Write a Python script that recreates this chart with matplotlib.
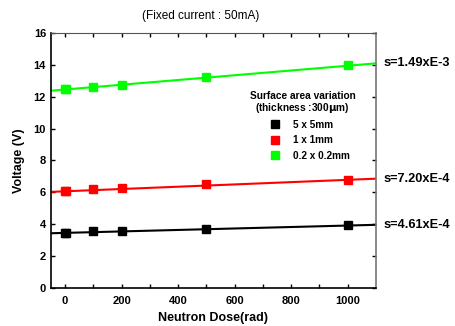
import numpy as np
import matplotlib
matplotlib.use("Agg")
import matplotlib.pyplot as plt

plt.rcParams['font.family'] = ['Liberation Sans', 'DejaVu Sans']

dose = [0, 5, 100, 200, 500, 1000]
v_5x5 = [3.45, 3.42, 3.55, 3.55, 3.70, 3.92]
v_1x1 = [6.05, 6.10, 6.20, 6.27, 6.50, 6.80]
v_02 = [12.45, 12.50, 12.62, 12.75, 13.22, 14.00]
labels = ["5 x 5mm", "1 x 1mm", "0.2 x 0.2mm"]
colors = ["#000000", "#ff0000", "#00ff00"]
slopes = [4.61e-4, 7.20e-4, 1.49e-3]
intercepts = [3.45, 6.06, 12.45]
slope_text = ["s=4.61xE-4", "s=7.20xE-4", "s=1.49xE-3"]

fig = plt.figure(figsize=(4.55, 3.26), dpi=100)
ax = fig.add_axes([0.112, 0.117, 0.714, 0.782])

xs = np.array([-50, 1100])
handles = []
for vals, lab, c, s, b in zip([v_5x5, v_1x1, v_02], labels, colors, slopes, intercepts):
    ax.plot(xs, b + s * xs, color=c, lw=1.5, zorder=2)
    h, = ax.plot(dose, vals, 's', color=c, ms=6, zorder=3, label=lab)
    handles.append(h)

ax.set_xlim(-50, 1100)
ax.set_ylim(0, 16)
ax.set_xticks([0, 200, 400, 600, 800, 1000])
ax.set_xticks(np.arange(0, 1100, 100), minor=True)
ax.set_yticks(np.arange(0, 17, 2))
ax.tick_params(direction='in', top=True, right=True, which='both', labelsize=8, width=1, length=3)
ax.tick_params(axis='x', pad=6)
for lab in ax.get_xticklabels() + ax.get_yticklabels():
    lab.set_fontweight('bold')
ax.spines['left'].set_linewidth(1.2)
ax.spines['bottom'].set_linewidth(1.2)
ax.spines['top'].set_color('#555555')
ax.spines['right'].set_color('#777777')
ax.spines['right'].set_linewidth(1.2)

ax.set_xlabel("Neutron Dose(rad)", fontsize=9, fontweight='bold', labelpad=4)
ax.set_ylabel("Voltage (V)", fontsize=9, fontweight='bold', labelpad=6)
fig.text(0.44, 0.952, "(Fixed current : 50mA)", fontsize=8.5, ha='center', va='center')

# slope labels on right
for s, b, t in zip(slopes, intercepts, slope_text):
    yv = b + s * 1100
    ax.annotate(t, xy=(1.0, yv), xycoords=('axes fraction', 'data'), xytext=(5.5, 0),
                textcoords='offset points', fontsize=9.2, fontweight='bold', va='center', ha='left',
                annotation_clip=False)

ax.text(0.775, 0.754, "Surface area variation", transform=ax.transAxes, fontsize=7.3,
        fontweight='bold', ha='center', va='center')
ax.text(0.775, 0.704, "(thickness :300$\\mathbf{\\mu}$m)", transform=ax.transAxes, fontsize=7.3,
        fontweight='bold', ha='center', va='center')

leg = ax.legend(handles=handles, loc='upper left', bbox_to_anchor=(0.675, 0.66),
                frameon=False, fontsize=7.2, handlelength=1.0, handletextpad=1.3,
                labelspacing=0.55, markerscale=0.9, borderpad=0, borderaxespad=0)
for t in leg.get_texts():
    t.set_fontweight('bold')

fig.savefig("out.png", dpi=100)
